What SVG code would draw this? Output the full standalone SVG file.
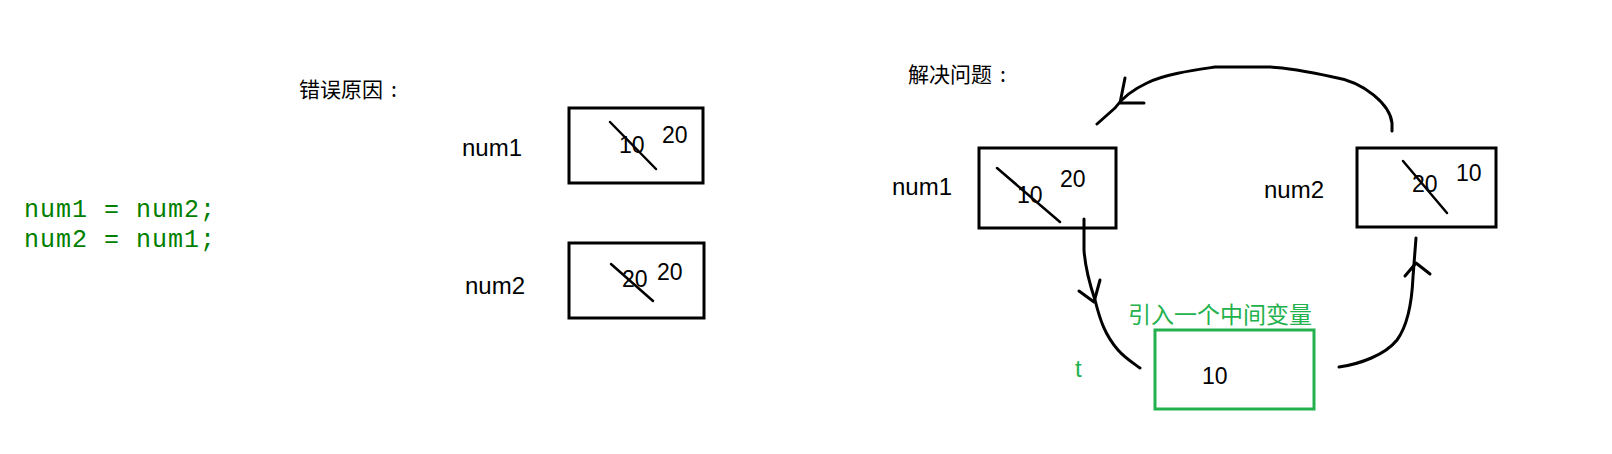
<svg xmlns="http://www.w3.org/2000/svg" width="1612" height="454" viewBox="0 0 1612 454">
<style>
.bg{fill:#ffffff}
.box{fill:none;stroke:#000;stroke-width:3}
.gbox{fill:none;stroke:#22b14c;stroke-width:3}
.lbl{font-family:"Liberation Sans",Arial,sans-serif;font-size:24px;fill:#000}
.val{font-family:"Liberation Sans",Arial,sans-serif;font-size:23px;fill:#000}
.cjk{font-family:"Noto Sans CJK SC","Noto Sans",sans-serif;font-size:21px;fill:#000}
.code{font-family:"Liberation Mono","Courier New",monospace;font-size:25px;letter-spacing:1px;fill:#008000}
.strike{stroke:#000;stroke-width:2.5;stroke-linecap:round;fill:none}
.hand{stroke:#000;stroke-width:3;stroke-linecap:round;stroke-linejoin:round;fill:none}
.green{fill:#22b14c}
</style>
<rect class="bg" x="0" y="0" width="1612" height="454"/>

<g id="code">
<text class="code" x="24" y="217">num1 = num2;</text>
<text class="code" x="24" y="247">num2 = num1;</text>
</g>

<g id="title-error">
<text class="cjk" x="299" y="97">错误原因<tspan dx="8">:</tspan></text>
</g>

<g id="left-num1">
<text class="lbl" x="462" y="156">num1</text>
<rect class="box" x="569" y="108" width="134" height="75"/>
<text class="val" x="619" y="153">10</text>
<text class="val" x="662" y="143">20</text>
<line class="strike" x1="610" y1="122" x2="656" y2="169"/>
</g>

<g id="left-num2">
<text class="lbl" x="465" y="294">num2</text>
<rect class="box" x="569" y="243" width="135" height="75"/>
<text class="val" x="622" y="287">20</text>
<text class="val" x="657" y="280">20</text>
<line class="strike" x1="611" y1="264" x2="653" y2="301"/>
</g>

<g id="title-solve">
<text class="cjk" x="908" y="82">解决问题<tspan dx="8">:</tspan></text>
</g>

<g id="right-num1">
<text class="lbl" x="892" y="195">num1</text>
<rect class="box" x="979" y="148" width="137" height="80"/>
<text class="val" x="1017" y="203">10</text>
<text class="val" x="1060" y="187">20</text>
<line class="strike" x1="997" y1="168" x2="1060" y2="222"/>
</g>

<g id="right-num2">
<text class="lbl" x="1264" y="198">num2</text>
<rect class="box" x="1357" y="148" width="139" height="79"/>
<text class="val" x="1412" y="192">20</text>
<text class="val" x="1456" y="181">10</text>
<line class="strike" x1="1403" y1="161" x2="1447" y2="213"/>
</g>

<g id="temp-t">
<text class="cjk green" x="1128" y="323" style="font-size:23px">引入一个中间变量</text>
<rect class="gbox" x="1155" y="330" width="159" height="79"/>
<text class="val" x="1202" y="384">10</text>
<text class="lbl green" x="1075" y="377" style="font-size:24px">t</text>
</g>

<g id="connectors">
<path class="hand" d="M1392,131 L1392,123 C1390,105 1365,82 1333,77 C1310,72 1290,68 1270,67 L1215,67 C1195,70 1165,74 1147,83 C1132,90 1122,98 1115,108 L1097,124"/>
<path class="hand" d="M1125,78 L1120,103 L1144,103"/>
<path class="hand" d="M1084,219 L1084,250 C1085,265 1090,285 1095,300 C1100,320 1105,335 1118,350 C1125,358 1133,363 1140,368"/>
<path class="hand" d="M1079,291 L1094,302 L1100,280"/>
<path class="hand" d="M1339,367 C1360,364 1385,355 1397,340 C1408,325 1412,300 1413,277 L1416,238"/>
<path class="hand" d="M1405,276 L1416,263 L1430,274"/>
</g>
</svg>
